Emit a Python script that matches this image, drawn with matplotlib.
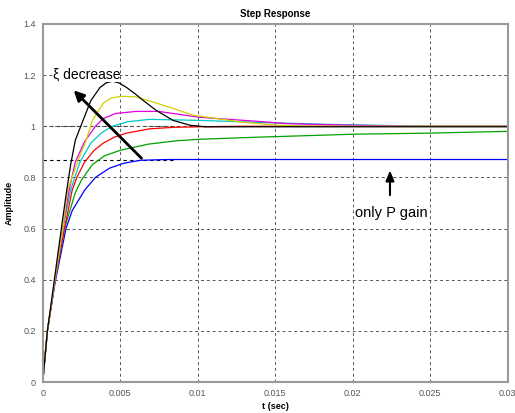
import matplotlib.pyplot as plt

plt.rcParams["font.family"] = ["Liberation Sans", "DejaVu Sans"]

# step responses (t in seconds)
t_black = [0, 0.0003, 0.00075, 0.0012, 0.0015, 0.0018, 0.0021, 0.0026, 0.0031, 0.0037,
           0.0041, 0.0045, 0.0049, 0.0054, 0.006, 0.0065, 0.0073, 0.0084, 0.0095,
           0.0105, 0.03]
y_black = [0, 0.2, 0.4, 0.6, 0.73, 0.85, 0.945, 1.023, 1.1, 1.152,
           1.17, 1.176, 1.17, 1.152, 1.125, 1.1, 1.063, 1.023, 1.004,
           0.998, 0.998]

t_yellow = [0, 0.0003, 0.00078, 0.0013, 0.0016, 0.0023, 0.0028, 0.0032, 0.0039, 0.0044,
            0.005, 0.006, 0.0071, 0.0084, 0.0097, 0.0116, 0.013, 0.015, 0.017, 0.03]
y_yellow = [0, 0.2, 0.4, 0.6, 0.75, 0.87, 0.945, 1.023, 1.09, 1.11,
            1.117, 1.115, 1.095, 1.07, 1.043, 1.027, 1.015, 1.005, 1.0, 1.0]

t_magenta = [0, 0.0003, 0.0008, 0.0013, 0.0017, 0.0021, 0.0027, 0.0034, 0.0039, 0.0047,
             0.006, 0.0075, 0.0101, 0.0137, 0.0158, 0.02, 0.024, 0.03]
y_magenta = [0, 0.2, 0.4, 0.6, 0.75, 0.86, 0.94, 1.0, 1.03, 1.05,
             1.058, 1.058, 1.035, 1.02, 1.01, 1.004, 1.0, 1.0]

t_cyan = [0, 0.0003, 0.0008, 0.0013, 0.0018, 0.0024, 0.0031, 0.0038, 0.0045, 0.0055,
          0.0069, 0.0101, 0.014, 0.018, 0.025, 0.03]
y_cyan = [0, 0.2, 0.4, 0.6, 0.75, 0.86, 0.934, 0.975, 1.0, 1.018,
          1.027, 1.023, 1.015, 1.008, 1.0, 1.0]

t_red = [0, 0.0003, 0.0008, 0.0014, 0.0019, 0.0022, 0.0027, 0.0033, 0.0039, 0.0046,
         0.0054, 0.0069, 0.0085, 0.0101, 0.013, 0.03]
y_red = [0, 0.2, 0.4, 0.6, 0.75, 0.8, 0.86, 0.905, 0.934, 0.957,
         0.973, 0.99, 0.996, 0.998, 1.0, 1.0]

t_green = [0, 0.0003, 0.0008, 0.0014, 0.0021, 0.0025, 0.0032, 0.004, 0.005, 0.0068,
           0.0086, 0.0101, 0.0137, 0.0201, 0.0248, 0.03]
y_green = [0, 0.2, 0.4, 0.6, 0.74, 0.79, 0.85, 0.885, 0.906, 0.93,
           0.943, 0.949, 0.957, 0.969, 0.973, 0.98]

t_blue = [0, 0.0003, 0.0008, 0.0015, 0.0019, 0.0023, 0.0027, 0.0034, 0.0043, 0.0052,
          0.0063, 0.008, 0.03]
y_blue = [0, 0.2, 0.39, 0.6, 0.67, 0.71, 0.75, 0.8, 0.836, 0.855,
          0.867, 0.87, 0.87]

fig = plt.figure(figsize=(5.15, 4.13), dpi=100)
ax = fig.add_axes([0.083, 0.075, 0.903, 0.867])

ax.grid(True, linestyle=(0, (3, 3)), color="#555555", linewidth=0.7)
ax.axhline(1.0, color="#333333", linestyle=(0, (3, 3)), linewidth=0.8, zorder=1)
ax.plot([0, 0.0084], [0.87, 0.87], color="black", linestyle=(0, (3, 3)), linewidth=0.8)

ax.plot(t_blue, y_blue, color="blue", lw=0.9)
ax.plot(t_green, y_green, color="#00a000", lw=0.9)
ax.plot(t_red, y_red, color="red", lw=0.9)
ax.plot(t_cyan, y_cyan, color="#00c8c8", lw=0.9)
ax.plot(t_magenta, y_magenta, color="#e000e0", lw=0.9)
ax.plot(t_yellow, y_yellow, color="#d0d000", lw=0.9)
ax.plot(t_black, y_black, color="black", lw=0.9)

ax.set_xlim(0, 0.03)
ax.set_ylim(0, 1.4)
ax.set_xticks([0, 0.005, 0.01, 0.015, 0.02, 0.025, 0.03])
ax.set_xticklabels(["0", "0.005", "0.01", "0.015", "0.02", "0.025", "0.03"])
ax.set_yticks([0, 0.2, 0.4, 0.6, 0.8, 1.0, 1.2, 1.4])
ax.set_yticklabels(["0", "0.2", "0.4", "0.6", "0.8", "1", "1.2", "1.4"])
ax.tick_params(length=0, labelsize=6.5, labelcolor="#555555", pad=5)
for s in ax.spines.values():
    s.set_color("#999999")
    s.set_linewidth(1.5)

ax.set_title("Step Response", fontsize=7, fontweight="bold", pad=5)
ax.set_xlabel("t (sec)", fontsize=6.5, fontweight="bold", labelpad=3)
ax.set_ylabel("Amplitude", fontsize=6.5, fontweight="bold", labelpad=7)

# annotations
ax.annotate("", xy=(0.00187, 1.148), xytext=(0.0065, 0.867),
            arrowprops=dict(arrowstyle="-|>,head_length=0.6,head_width=0.3",
                            color="black", lw=2))
ax.text(0.00065, 1.2, "ξ decrease", fontsize=10, va="center", ha="left",
        bbox=dict(facecolor="white", edgecolor="none", pad=0))
ax.annotate("", xy=(0.0224, 0.838), xytext=(0.0224, 0.72),
            arrowprops=dict(arrowstyle="-|>,head_length=0.6,head_width=0.25",
                            color="black", lw=1.5))
ax.text(0.0225, 0.66, "only P gain", fontsize=10.5, va="center", ha="center")

fig.savefig("out.png", dpi=100)
